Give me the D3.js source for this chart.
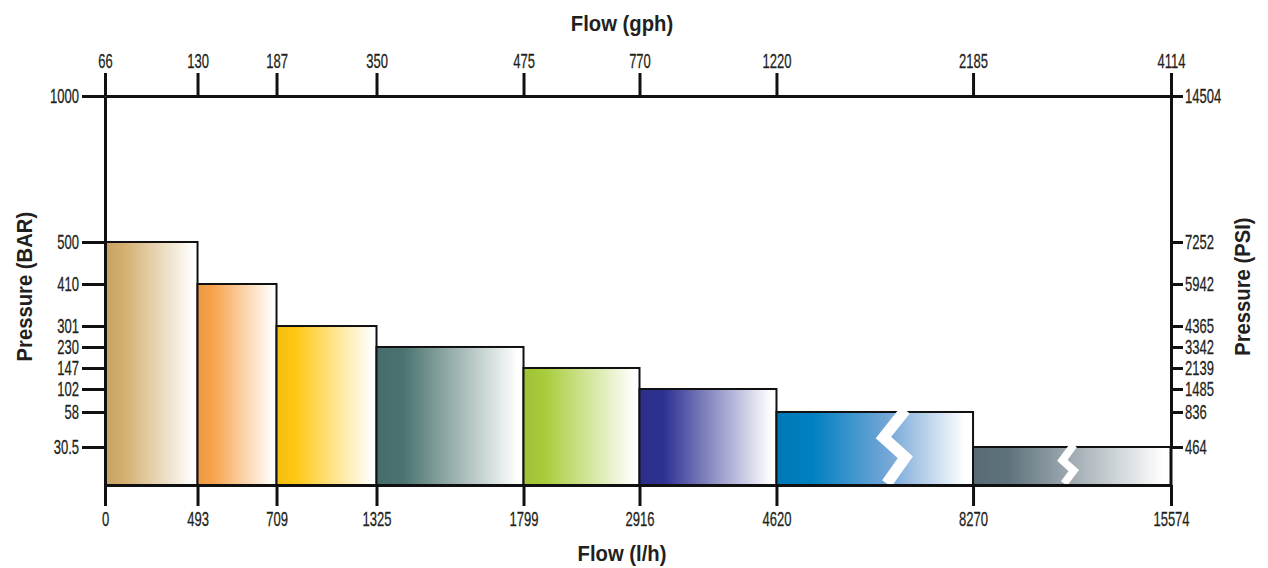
<!DOCTYPE html>
<html>
<head>
<meta charset="utf-8">
<script src="https://cdn.jsdelivr.net/npm/d3@7/dist/d3.min.js"></script>
<style>
  body { margin: 0; background: #fff; }
  text { font-family: "Liberation Sans", Arial, sans-serif; fill: #231f20; }
</style>
</head>
<body>
<div id="chart"></div>
<script>
// flow range boundaries: l/h on the bottom axis, gph on the top axis
const flowLh = [0, 493, 709, 1325, 1799, 2916, 4620, 8270, 15574];
const flowGph = [66, 130, 187, 350, 475, 770, 1220, 2185, 4114];

// pressure ticks: bar on the left, psi on the right
const pressureBar = [30.5, 58, 102, 147, 230, 301, 410, 500, 1000];
const pressurePsi = [464, 836, 1485, 2139, 3342, 4365, 5942, 7252, 14504];

// one bar per flow range, height = max pressure (bar)
const barPressure = [500, 410, 301, 230, 147, 102, 58, 30.5];
const barColors = ["#d2ac6b", "#f7a148", "#fec712", "#4a736f", "#a8cc3a", "#2e3192", "#0080c0", "#5e727d"];
const brokenBars = [false, false, false, false, false, false, true, true];

// set the dimensions of the graph
const margin = {top: 96, right: 97, bottom: 83, left: 105},
  width = 1268 - margin.left - margin.right,
  height = 568 - margin.top - margin.bottom;

const svg = d3.select("#chart")
  .append("svg")
  .attr("width", 1268)
  .attr("height", 568);

const g = svg.append("g")
  .attr("transform", "translate(" + margin.left + "," + margin.top + ")");

// the axes are not linear: each boundary sits at its own share of the width / height
const xStops = [0, 0.0868, 0.1609, 0.2547, 0.3926, 0.5014, 0.6299, 0.8143, 1];
const yStops = [0, 0.0977, 0.1877, 0.2468, 0.3008, 0.3548, 0.4087, 0.5167, 0.6247, 1];

const x = d3.scaleLinear().domain(flowLh).range(xStops.map(f => f * width));
const xGph = d3.scaleLinear().domain(flowGph).range(x.range());
const y = d3.scaleLinear().domain([0].concat(pressureBar)).range(yStops.map(f => height * (1 - f)));
const yPsi = d3.scaleLinear().domain(pressurePsi).range(pressureBar.map(d => y(d)));

// gradients, solid on the left fading to white
const defs = svg.append("defs");
const midTint = {6: "#78a8d8"};   // the blue one fades through a softer blue
barColors.forEach(function(c, i) {
  const grad = defs.append("linearGradient")
    .attr("id", "grad" + i)
    .attr("x1", 0).attr("x2", 1).attr("y1", 0).attr("y2", 0);
  grad.append("stop").attr("offset", 0).attr("stop-color", d3.color(c).darker(0.15));
  grad.append("stop").attr("offset", 0.18).attr("stop-color", c);
  if (midTint[i]) grad.append("stop").attr("offset", 0.58).attr("stop-color", midTint[i]);
  grad.append("stop").attr("offset", 0.96).attr("stop-color", "#fff");
});

// Add the bars
const bars = barPressure.map((p, i) => ({p: p, x0: flowLh[i], x1: flowLh[i + 1], i: i}));
g.selectAll("rect.bar")
  .data(bars)
  .enter().append("rect")
  .attr("class", "bar")
  .attr("x", d => x(d.x0))
  .attr("width", d => x(d.x1) - x(d.x0))
  .attr("y", d => y(d.p))
  .attr("height", d => height - y(d.p))
  .attr("fill", d => "url(#grad" + d.i + ")")
  .attr("stroke", "#111")
  .attr("stroke-width", 2);

// white zigzag on the squeezed ranges
const breakPos = {6: 0.6, 7: 0.48};
g.selectAll("path.break")
  .data(bars.filter(d => brokenBars[d.i]))
  .enter().append("path")
  .attr("class", "break")
  .attr("fill", "none")
  .attr("stroke", "#fff")
  .attr("stroke-width", d => 4 + 0.1 * (height - y(d.p)))
  .attr("d", function(d) {
    const top = y(d.p), h = height - top,
      c = x(d.x0) + breakPos[d.i] * (x(d.x1) - x(d.x0)), a = 0.15 * h;
    return d3.line()([[c + a, top - 2], [c - a, top + 0.35 * h], [c + a, top + 0.62 * h], [c - 0.7 * a, height - 1.5]]);
  });

// Add the four axes
function styleAxis(sel) {
  sel.selectAll("path, line").attr("stroke", "#111").attr("stroke-width", 3);
  sel.selectAll("text")
    .attr("font-size", 21)
    .attr("fill", "#231f20")
    .attr("stroke", "#231f20")
    .attr("stroke-width", 0.3);
}

g.append("g")
  .attr("transform", "translate(0," + height + ")")
  .call(d3.axisBottom(x).tickValues(flowLh).tickFormat(d3.format("d")).tickSize(21).tickSizeOuter(0).tickPadding(5))
  .call(styleAxis);

g.append("g")
  .call(d3.axisTop(xGph).tickValues(flowGph).tickFormat(d3.format("d")).tickSize(23).tickSizeOuter(0).tickPadding(5))
  .call(styleAxis);

g.append("g")
  .call(d3.axisLeft(y).tickValues(pressureBar).tickFormat(d => String(d)).tickSize(23).tickSizeOuter(0).tickPadding(3))
  .call(styleAxis);

g.append("g")
  .attr("transform", "translate(" + width + ",0)")
  .call(d3.axisRight(yPsi).tickValues(pressurePsi).tickFormat(d3.format("d")).tickSize(12).tickSizeOuter(0).tickPadding(2))
  .call(styleAxis);

// right axis runs down to the baseline
g.append("line")
  .attr("x1", width).attr("x2", width)
  .attr("y1", y(pressureBar[0])).attr("y2", height)
  .attr("stroke", "#111").attr("stroke-width", 3);

// axis titles
svg.append("text")
  .attr("class", "title")
  .attr("x", margin.left + width * 0.485).attr("y", 31)
  .attr("text-anchor", "middle")
  .text("Flow (gph)");

svg.append("text")
  .attr("class", "title")
  .attr("x", margin.left + width * 0.485).attr("y", 561)
  .attr("text-anchor", "middle")
  .text("Flow (l/h)");

svg.append("text")
  .attr("class", "title")
  .attr("transform", "translate(32," + (margin.top + height * 0.49) + ") rotate(-90)")
  .attr("text-anchor", "middle")
  .text("Pressure (BAR)");

svg.append("text")
  .attr("class", "title")
  .attr("transform", "translate(1250," + (margin.top + height * 0.49) + ") rotate(-90)")
  .attr("text-anchor", "middle")
  .text("Pressure (PSI)");

svg.selectAll("text.title")
  .attr("font-size", 22)
  .attr("font-weight", "bold");

// squeeze the lettering to the narrow face of the original
svg.selectAll("g text").each(function() {
  this.setAttribute("textLength", this.getComputedTextLength() * 0.62);
  this.setAttribute("lengthAdjust", "spacingAndGlyphs");
});
svg.selectAll("text.title").each(function() {
  this.setAttribute("textLength", this.getComputedTextLength() * 0.92);
  this.setAttribute("lengthAdjust", "spacingAndGlyphs");
});
</script>
</body>
</html>
